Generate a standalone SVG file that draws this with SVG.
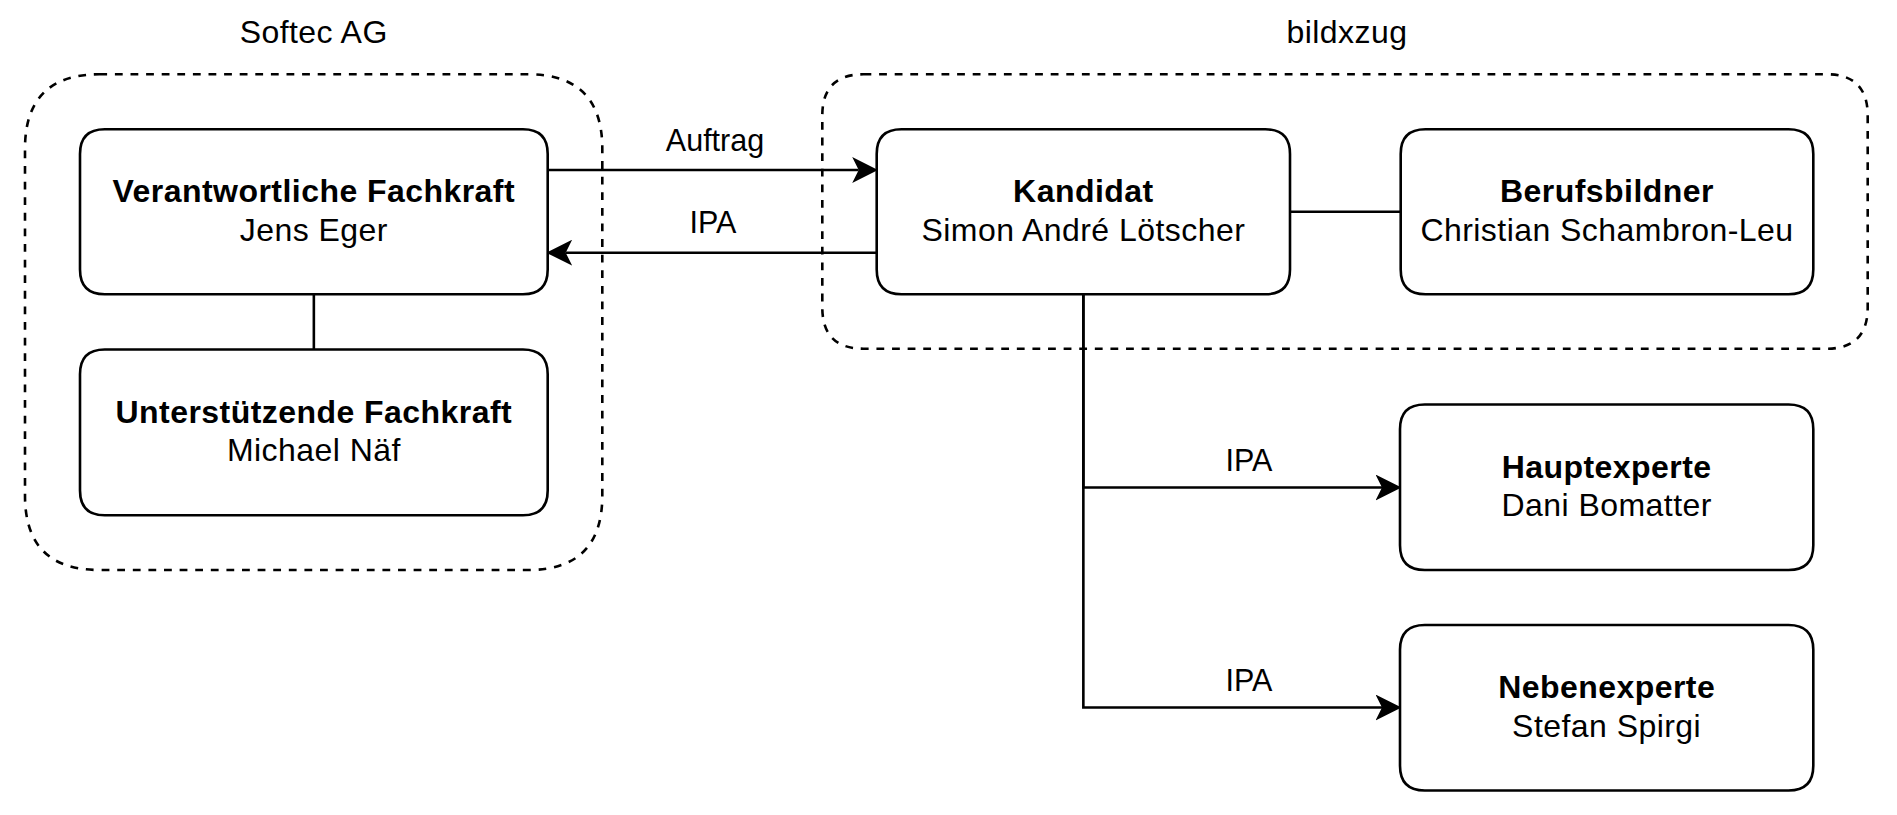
<svg xmlns="http://www.w3.org/2000/svg" width="1897" height="815" viewBox="0 0 1897 815">
<defs>
<style>
.bg{fill:#ffffff}
.cont{fill:none;stroke:#000;stroke-width:2.6;stroke-dasharray:7.8 7.8}
.box{fill:#fff;stroke:#000;stroke-width:2.6}
.edge{fill:none;stroke:#000;stroke-width:2.6}
text{font-family:"Liberation Sans",Arial,Helvetica,sans-serif;font-size:32px;letter-spacing:0.45px;fill:#000;text-anchor:middle}
.b{font-weight:bold}
.lbl{font-size:30.5px;letter-spacing:0}
</style>
<marker id="arr" markerUnits="userSpaceOnUse" markerWidth="26" markerHeight="26" viewBox="0 0 24 24" refX="6" refY="12" orient="auto">
<path d="M0,0 L24,12 L0,24 L6,12 Z" fill="#000"/>
</marker>
</defs>
<rect class="bg" x="0" y="0" width="1897" height="815"/>

<g id="group-softec">
<path class="cont" d="M99.3,74.3 H528 Q602.3,74.3 602.3,148.6 V495.7 Q602.3,570 528,570 H99.3 Q25,570 25,495.7 V148.6 Q25,74.3 99.3,74.3 Z"/>
<text x="313.7" y="43.3">Softec AG</text>
</g>

<g id="group-bildxzug">
<path class="cont" d="M863.5,74.3 H1826.5 Q1867.7,74.3 1867.7,115.5 V307.5 Q1867.7,348.7 1826.5,348.7 H863.5 Q822.3,348.7 822.3,307.5 V115.5 Q822.3,74.3 863.5,74.3 Z"/>
<text x="1347" y="43.3">bildxzug</text>
</g>

<g id="connectors">
<path class="edge" d="M313.85,294.3 V349.5"/>
<path class="edge" d="M547.7,170 H858.7" marker-end="url(#arr)"/>
<path class="edge" d="M876.7,252.7 H565.7" marker-end="url(#arr)"/>
<path class="edge" d="M1290,211.8 H1400.7"/>
<path class="edge" d="M1083.35,294.3 V487.5 H1382" marker-end="url(#arr)"/>
<path class="edge" d="M1083.35,294.3 V707.5 H1382" marker-end="url(#arr)"/>
<text class="lbl" x="715" y="150.7">Auftrag</text>
<text class="lbl" x="713" y="233.3">IPA</text>
<text class="lbl" x="1249" y="470.7">IPA</text>
<text class="lbl" x="1249" y="690.7">IPA</text>
</g>

<g id="node-verantwortliche">
<path class="box" d="M104.75,129.3 H522.95 Q547.7,129.3 547.7,154.05 V269.55 Q547.7,294.3 522.95,294.3 H104.75 Q80,294.3 80,269.55 V154.05 Q80,129.3 104.75,129.3 Z"/>
<text class="b" x="313.85" y="202.2">Verantwortliche Fachkraft</text>
<text x="313.85" y="240.8">Jens Eger</text>
</g>

<g id="node-unterstuetzende">
<path class="box" d="M104.75,349.5 H522.95 Q547.7,349.5 547.7,374.25 V490.55 Q547.7,515.3 522.95,515.3 H104.75 Q80,515.3 80,490.55 V374.25 Q80,349.5 104.75,349.5 Z"/>
<text class="b" x="313.85" y="422.8">Unterstützende Fachkraft</text>
<text x="313.85" y="461.4">Michael Näf</text>
</g>

<g id="node-kandidat">
<path class="box" d="M901.45,129.3 H1265.25 Q1290,129.3 1290,154.05 V269.55 Q1290,294.3 1265.25,294.3 H901.45 Q876.7,294.3 876.7,269.55 V154.05 Q876.7,129.3 901.45,129.3 Z"/>
<text class="b" x="1083.35" y="202.2">Kandidat</text>
<text x="1083.35" y="240.8">Simon André Lötscher</text>
</g>

<g id="node-berufsbildner">
<path class="box" d="M1425.45,129.3 H1788.55 Q1813.3,129.3 1813.3,154.05 V269.55 Q1813.3,294.3 1788.55,294.3 H1425.45 Q1400.7,294.3 1400.7,269.55 V154.05 Q1400.7,129.3 1425.45,129.3 Z"/>
<text class="b" x="1607" y="202.2">Berufsbildner</text>
<text x="1607" y="240.8">Christian Schambron-Leu</text>
</g>

<g id="node-hauptexperte">
<path class="box" d="M1424.75,404.5 H1788.55 Q1813.3,404.5 1813.3,429.25 V545.25 Q1813.3,570 1788.55,570 H1424.75 Q1400,570 1400,545.25 V429.25 Q1400,404.5 1424.75,404.5 Z"/>
<text class="b" x="1606.65" y="477.6">Hauptexperte</text>
<text x="1606.65" y="516.3">Dani Bomatter</text>
</g>

<g id="node-nebenexperte">
<path class="box" d="M1424.75,625 H1788.55 Q1813.3,625 1813.3,649.75 V765.75 Q1813.3,790.5 1788.55,790.5 H1424.75 Q1400,790.5 1400,765.75 V649.75 Q1400,625 1424.75,625 Z"/>
<text class="b" x="1606.65" y="698.1">Nebenexperte</text>
<text x="1606.65" y="736.8">Stefan Spirgi</text>
</g>
</svg>
